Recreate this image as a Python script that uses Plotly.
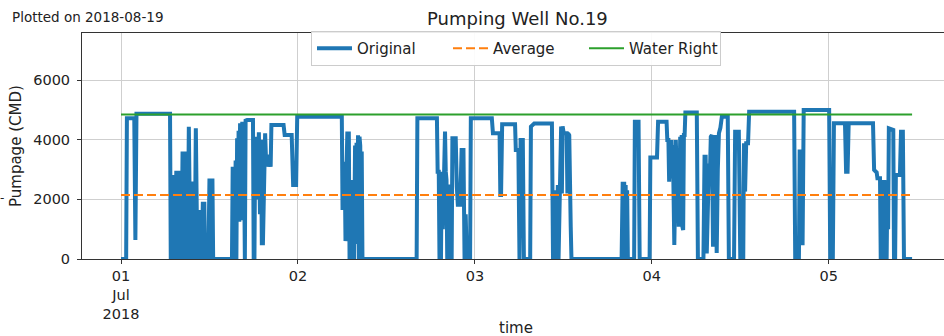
import pandas as pd
import plotly.graph_objects as go

# ---- data ----
hours = [
    0, 0.7, 0.8, 1.8, 1.95, 2.1, 6.65,
    6.75, 6.85, 6.95, 7.05, 7.15, 7.25, 7.35, 7.5, 7.6, 7.7, 7.8, 7.9, 8.0, 8.1, 8.2,
    8.35, 8.45, 8.55, 8.65, 8.75, 8.85, 8.95, 9.05, 9.2, 9.3, 9.4, 9.5, 9.6, 9.7, 9.8,
    9.9, 10.0, 10.15, 10.25, 10.35, 10.45, 10.55, 10.65, 10.75, 10.85, 10.95, 11.1,
    11.2, 11.3, 11.4, 11.55, 11.65, 11.75, 11.85, 12.0, 12.1, 12.2, 12.3, 12.4, 12.5, 15.05,
    15.15, 15.25, 15.35, 15.45, 15.55, 15.65, 15.75, 15.85, 15.95, 16.05, 16.15, 16.3,
    16.45, 16.55, 16.65, 16.8, 16.9, 17.1, 17.9, 18.0, 18.1, 18.2, 18.3, 18.45, 18.55,
    18.7, 18.85, 19.0, 19.1, 19.25, 19.4, 19.55, 19.7, 19.85, 20.0, 20.15, 20.3, 20.4,
    22.05, 22.2, 23.15, 23.35, 23.75, 23.9, 29.95,
    30.05, 30.15, 30.25, 30.35, 30.45, 30.55, 30.7, 30.8, 30.9, 31.0, 31.1, 31.2, 31.3,
    31.4, 31.5, 31.6, 31.75, 31.85, 31.95, 32.05, 32.15, 32.25, 32.35, 32.45, 32.55,
    32.65, 32.75, 40.1, 40.2, 42.85,
    42.95, 43.1, 43.2, 43.3, 43.4, 43.5, 43.65, 43.8, 43.95, 44.05, 44.15, 44.25, 44.35,
    44.45, 44.6, 44.7, 44.85, 44.95, 45.4, 45.55, 45.7, 45.85, 46.0, 46.2, 46.45, 46.6,
    46.75, 46.9, 47.35, 47.45, 50.3, 50.45, 51.35, 51.45, 51.55, 51.7, 53.45,
    53.55, 53.9, 54.05, 54.2, 54.5, 54.65, 55.5, 55.6, 56.05, 58.45, 58.6, 58.75, 58.85,
    59.0, 59.1, 59.25, 59.35, 59.5, 59.7, 59.8, 59.9, 60.05, 60.45, 60.55, 60.65, 60.8,
    60.9, 61.0, 61.1, 67.9,
    68.05, 68.15, 68.25, 68.35, 68.45, 68.55, 68.65, 68.75, 69.6, 69.7, 70.2, 70.35,
    71.7, 71.8, 72.7, 72.85, 74.0,
    74.1, 74.25, 74.35, 74.45, 74.55, 74.65, 74.75, 74.85, 74.95, 75.05, 75.15, 75.25,
    75.35, 75.45, 75.55, 75.65, 75.75, 75.85, 75.95, 76.05, 76.15, 76.25, 76.35, 76.45,
    76.55, 78.1,
    78.25, 79.0, 79.15, 79.3, 79.45, 79.6, 79.75, 79.85, 80.0, 80.15, 80.3, 80.45, 80.6,
    80.7, 80.8, 80.95, 81.1, 81.3, 81.5, 82.3, 82.45, 83.15, 83.3, 83.8, 84.0, 84.4,
    84.5, 84.65, 84.8, 85.05, 85.2, 91.3,
    91.45, 91.95, 92.05, 92.2, 92.3, 92.45, 92.6, 96.05, 96.2, 96.55, 96.7, 98.2, 98.35,
    98.55, 98.7, 102.0,
    102.15, 102.5, 102.6, 102.95, 103.05, 103.15, 103.25, 103.35, 103.45, 103.55,
    103.65, 103.75, 103.85, 103.95, 104.05, 104.15, 104.75, 104.85, 105.0, 105.1,
    105.65, 105.8, 106.05, 106.2, 107.3,
]
pumpage = [
    0, 0, 4716, 4716, 640, 4870, 4870,
    0, 2816, 0, 2816, 500, 2816, 0, 2960, 0, 2960, 800, 2960, 0, 2960, 0,
    3600, 0, 3600, 1500, 3600, 0, 3000, 0, 4436, 2000, 0, 2600, 0, 2400, 0,
    2600, 0, 4380, 1500, 0, 1640, 0, 1500, 0, 1640, 0, 1920,
    0, 1920, 0, 800, 0, 600, 0, 2700, 0, 2700, 500, 2700, 0, 0,
    3095, 0, 3095, 800, 3300, 0, 4045, 1500, 4300, 1250, 4550, 1300,
    4600, 1300, 4600, 0, 4640, 4660, 4660, 0, 0, 3880, 2000, 4100, 2500,
    4250, 1500, 4000, 530, 530, 3000, 4213, 3095, 3500, 3095, 3300, 3095, 4492,
    4492, 4157, 4157, 2480, 2480, 4772, 4772,
    1640, 3260, 1640, 3000, 600, 2500, 4270, 1000, 4270, 0, 2650, 0, 2650,
    200, 2000, 0, 3800, 1000, 3900, 500, 4150, 0, 4100, 3800, 800,
    3600, 0, 0, 4716, 4716,
    2928, 2928, 0, 2500, 0, 2928, 1000, 3500, 4270, 2928, 2650, 0, 2000,
    0, 2500, 0, 0, 4045, 4045, 2425, 1755, 2425, 1755, 3654, 3654, 0,
    1500, 0, 0, 4716, 4716, 4213, 4213, 2145, 2145, 4520, 4520,
    3654, 3654, 0, 3989, 3989, 0, 0, 4437, 4540, 4540, 0, 2200, 0,
    2300, 0, 2480, 0, 2480, 4437, 2200, 4450, 4213, 4213, 2200, 4213, 4150,
    1084, 1084, 0, 0,
    2592, 0, 2592, 200, 2480, 0, 2300, 0, 0, 4604, 4604, 0,
    0, 3400, 3400, 4604, 4604,
    3990, 3990, 2592, 3990, 2700, 3990, 2760, 3822, 1500, 470, 2000, 3990,
    3150, 2310, 3300, 1084, 2310, 4100, 1084, 4157, 1084, 970, 4157, 4157,
    4910, 4910,
    0, 0, 3430, 3430, 190, 2000, 3200, 2536, 4100, 4157, 413, 2000, 4157,
    2000, 200, 3000, 4213, 4400, 4771, 4771, 0, 0, 4269, 4269, 0, 0,
    3878, 2257, 3878, 3878, 4939, 4939,
    0, 0, 3600, 3600, 525, 525, 4995, 4995, 0, 0, 4548, 4548, 2927,
    2927, 4548, 4548,
    2984, 2900, 2704, 2704, 0, 2648, 0, 2500, 0, 2648,
    0, 2000, 0, 2500, 1000, 4380, 4324, 0, 0, 2816,
    2816, 4269, 4269, 0, 0,
]
average_value = 2145
water_right_value = 4840
series_end_hour = 107.3

tick_days = ["2018-07-01", "2018-07-02", "2018-07-03", "2018-07-04", "2018-07-05"]
tick_labels = ["01<br>Jul<br>2018", "02", "03", "04", "05"]
y_ticks = [0, 2000, 4000, 6000]

# ---- build ----
base = pd.Timestamp("2018-07-01")
times = base + pd.to_timedelta(hours, unit="h")
t_end = base + pd.Timedelta(hours=series_end_hour)

fig = go.Figure()
fig.add_trace(go.Scatter(x=times, y=pumpage, mode="lines", name="Original",
                         line=dict(color="#1f77b4", width=4)))
fig.add_trace(go.Scatter(x=[times[0], t_end], y=[average_value, average_value], mode="lines",
                         name="Average", line=dict(color="#ff7f0e", width=2, dash="9px,4px")))
fig.add_trace(go.Scatter(x=[times[0], t_end], y=[water_right_value, water_right_value], mode="lines",
                         name="Water Right", line=dict(color="#2ca02c", width=2)))

L, T, B = 82, 33, 77
W, H = 944, 336
pw, ph = W - L, H - T - B

def px(x):
    return (x - L) / pw

def py(y):
    return (H - B - y) / ph

font = "DejaVu Sans"
fig.update_layout(
    width=W, height=H,
    margin=dict(l=L, r=0, t=T, b=B, pad=0, autoexpand=False),
    paper_bgcolor="white", plot_bgcolor="white",
    font=dict(family=font, size=14.5, color="#222"),
    showlegend=True,
    legend=dict(orientation="h", x=px(516), xanchor="center", y=py(31), yanchor="top",
                bgcolor="rgba(255,255,255,0.9)", bordercolor="#cccccc", borderwidth=1,
                font=dict(size=15), itemwidth=35, entrywidth=86, entrywidthmode="pixels",
                traceorder="normal"),
    xaxis=dict(type="date",
               range=[base - pd.Timedelta(hours=5.29), base + pd.Timedelta(hours=111.63)],
               tickvals=tick_days, ticktext=tick_labels,
               showgrid=True, gridcolor="#cfcfcf", gridwidth=1,
               showline=True, linecolor="#333", linewidth=1, mirror=True,
               ticks="outside", ticklen=4, tickcolor="#333", zeroline=False,
               tickfont=dict(size=14.5), automargin=False),
    yaxis=dict(range=[0, 7576], tickvals=y_ticks,
               showgrid=True, gridcolor="#cfcfcf", gridwidth=1,
               showline=True, linecolor="#333", linewidth=1,
               ticks="outside", ticklen=4, tickcolor="#333", zeroline=False,
               ticklabelstandoff=4, tickfont=dict(size=14.5), automargin=False),
    annotations=[
        dict(text="Pumping Well No.19", x=px(517), y=py(18), xref="paper", yref="paper",
             xanchor="center", yanchor="middle", showarrow=False, font=dict(size=18)),
        dict(text="Plotted on 2018-08-19", x=px(10), y=py(17), xref="paper", yref="paper",
             xanchor="left", yanchor="middle", showarrow=False, font=dict(size=13.5)),
        dict(text="time", x=px(516), y=py(328), xref="paper", yref="paper",
             xanchor="center", yanchor="middle", showarrow=False, font=dict(size=15)),
        dict(text="Pumpage (CMD)", x=px(16), y=py(146), xref="paper", yref="paper",
             xanchor="center", yanchor="middle", textangle=-90, showarrow=False,
             font=dict(size=15)),
        dict(text="-", x=px(2), y=py(198), xref="paper", yref="paper",
             xanchor="center", yanchor="middle", showarrow=False, font=dict(size=12)),
    ],
)

fig.write_html("out.html", config={"displayModeBar": False},
               post_script="document.body.style.margin='0';document.body.style.overflow='hidden';")
